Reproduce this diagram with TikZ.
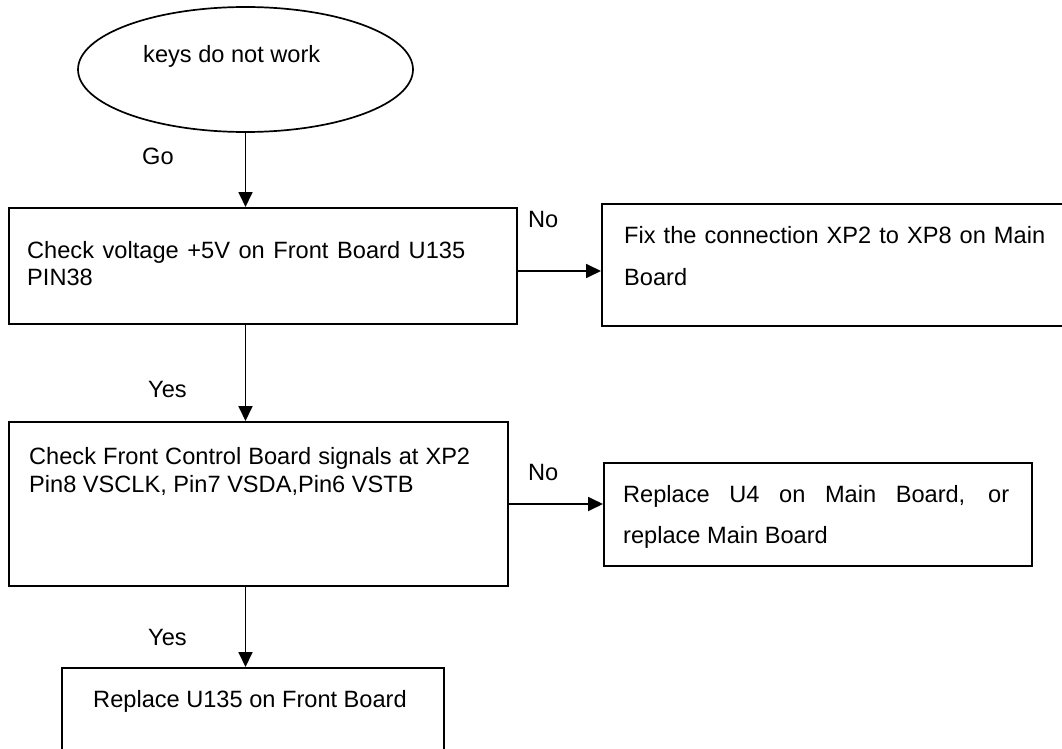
\documentclass[tikz,border=0pt]{standalone}
\usepackage{fontspec}
\setmainfont{Liberation Sans}
\usetikzlibrary{arrows.meta,shapes.geometric,calc}
\tikzset{
  boxshape/.style={draw, line width=2pt, rectangle, anchor=north west, inner sep=0pt},
  txt/.style={inner sep=0pt, font=\fontsize{23.6pt}{27pt}\selectfont},
  lbl/.style={inner sep=0pt, anchor=base west, font=\fontsize{23.6pt}{27pt}\selectfont},
  arr/.style={line width=1.8pt, -{Triangle[length=15pt,width=14pt]}}
}
\newcommand{\jpar}[3]{\parbox[t]{#1}{\tolerance=10000\hyphenpenalty=10000\exhyphenpenalty=10000\fontsize{23.6pt}{#2}\selectfont #3}}
\begin{document}
\begin{tikzpicture}[x=1pt,y=-1pt]
\useasboundingbox (0,0) rectangle (1062,749);
\clip (0,0) rectangle (1062,749);
\fill[white] (0,0) rectangle (1062,749);
% shapes
\node[draw, ellipse, line width=1.7pt, minimum width=335pt, minimum height=125pt, inner sep=0pt] (ell) at (245.5,69.5) {};
\node[boxshape, minimum width=508pt, minimum height=116pt] (b1) at (8,207) {};
\node[boxshape, minimum width=480pt, minimum height=122pt] (fix) at (601,203) {};
\node[boxshape, minimum width=499pt, minimum height=164pt] (b2) at (8,421) {};
\node[boxshape, minimum width=428pt, minimum height=103pt] (rep) at (603,462) {};
\node[boxshape, minimum width=382pt, minimum height=110pt] (b3) at (61,667) {};
% texts
\node[txt, anchor=base west] (tell) at (143,63) {keys do not work};
\node[txt, anchor=base west] (tb1) at (27,258) {\jpar{438pt}{27pt}{Check voltage +5V on Front Board U135 PIN38}};
\node[txt, anchor=base west] (tfix) at (624,243) {\jpar{421pt}{42pt}{Fix the connection XP2 to XP8 on Main Board}};
\node[txt, anchor=base west] (tb2) at (29,464) {\jpar{441pt}{28pt}{Check Front Control Board signals at XP2 Pin8 VSCLK, Pin7 VSDA,Pin6 VSTB}};
\node[txt, anchor=base west] (trep) at (623,502) {\jpar{386pt}{41pt}{Replace U4 on Main Board, or replace Main Board}};
\node[txt, anchor=base] (tb3) at (250,707) {Replace U135 on Front Board};
% labels
\node[lbl] (go) at (142,164) {Go};
\node[lbl] (no1) at (528,227) {No};
\node[lbl] (yes1) at (148,397) {Yes};
\node[lbl] (no2) at (528,480) {No};
\node[lbl] (yes2) at (148,645) {Yes};
% connectors
\draw[arr] (ell.south) -- (ell.south |- b1.north);
\draw[arr] (ell.south |- b1.south) -- (ell.south |- b2.north);
\draw[arr] (ell.south |- b2.south) -- (ell.south |- b3.north);
\draw[arr] ([yshift=-5pt]b1.east) -- ([yshift=-5pt]b1.east -| fix.west);
\draw[arr] (b2.east) -- (b2.east -| rep.west);
\end{tikzpicture}
\end{document}
